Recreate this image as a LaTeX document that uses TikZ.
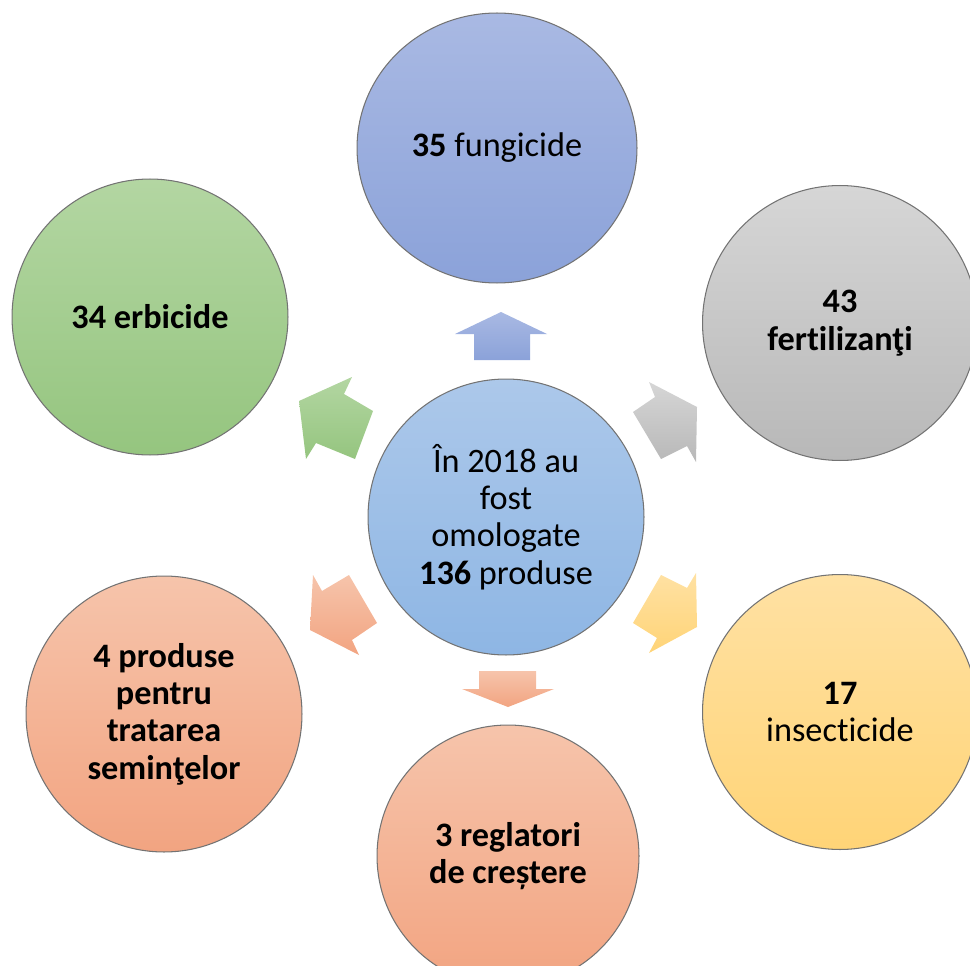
\documentclass[tikz,border=0pt]{standalone}
\usepackage{fontspec}
\setmainfont[Ligatures=NoCommon]{Carlito}
\usetikzlibrary{shapes.geometric}

\definecolor{bluetop}{HTML}{A9B9E3}
\definecolor{bluebot}{HTML}{8BA2D9}
\definecolor{skytop}{HTML}{ACC8EA}
\definecolor{skybot}{HTML}{8EB6E4}
\definecolor{greytop}{HTML}{D6D6D6}
\definecolor{greybot}{HTML}{B8B8B8}
\definecolor{greentop}{HTML}{B3D6A2}
\definecolor{greenbot}{HTML}{95C57F}
\definecolor{yellowtop}{HTML}{FFE1A3}
\definecolor{yellowbot}{HTML}{FFD477}
\definecolor{peachtop}{HTML}{F6C4AB}
\definecolor{peachbot}{HTML}{F2A481}

\tikzset{
  bubble/.style={circle, draw=black!55, line width=0.6pt, inner sep=0pt,
    align=center, font=\fontsize{19.5}{21.3}\selectfont},
}

\begin{document}
\begin{tikzpicture}[x=0.02cm, y=-0.02cm]

\useasboundingbox (0,0) rectangle (970,966);

\shade [top color=bluetop, bottom color=bluebot] (501,312) -- (547,334) -- (530,334) -- (530,360) -- (474,360) -- (474,334) -- (455,334) -- cycle;
\shade [top color=greytop, bottom color=greybot] (649,382) -- (655,397) -- (633,412) -- (661,459) -- (687,446) -- (696,462) -- (697,407) -- cycle;
\shade [top color=yellowtop, bottom color=yellowbot] (661,575) -- (687,588) -- (696,573) -- (697,627) -- (649,653) -- (657,638) -- (633,623) -- cycle;
\shade [top color=peachtop, bottom color=peachbot] (479,671) -- (536,671) -- (536,689) -- (554,689) -- (508,707) -- (462,689) -- (479,689) -- cycle;
\shade [top color=peachtop, bottom color=peachbot] (313,575) -- (322,591) -- (349,575) -- (377,623) -- (352,640) -- (359,655) -- (310,630) -- cycle;
\shade [top color=greentop, bottom color=greenbot] (299,401) -- (352,377) -- (344,394) -- (373,411) -- (355,459) -- (316,443) -- (306,459) -- cycle;

\node [bubble, top color=skytop, bottom color=skybot, minimum size=5.52cm] (centre) at (506,517) {În 2018 au\\fost\\omologate\\\textbf{136} produse};

\node [bubble, ellipse, top color=bluetop, bottom color=bluebot, minimum width=5.6cm, minimum height=5.4cm] (fungicide) at (497,148) {\textbf{35} fungicide};
\node [bubble, top color=greytop, bottom color=greybot, minimum size=5.5cm] (fertilizanti) at (840,323) {\textbf{43}\\\textbf{fertilizanţi}};
\node [bubble, top color=yellowtop, bottom color=yellowbot, minimum size=5.5cm] (insecticide) at (840,712) {\textbf{17}\\insecticide};
\node [bubble, top color=peachtop, bottom color=peachbot, minimum size=5.24cm] (reglatori) at (508,856) {\textbf{3 reglatori}\\\textbf{de creștere}};
\node [bubble, top color=peachtop, bottom color=peachbot, minimum size=5.52cm] (seminte) at (164,714) {\textbf{4 produse}\\\textbf{pentru}\\\textbf{tratarea}\\\textbf{seminţelor}};
\node [bubble, top color=greentop, bottom color=greenbot, minimum size=5.52cm] (erbicide) at (150,317) {\textbf{34 erbicide}};

\end{tikzpicture}
\end{document}
